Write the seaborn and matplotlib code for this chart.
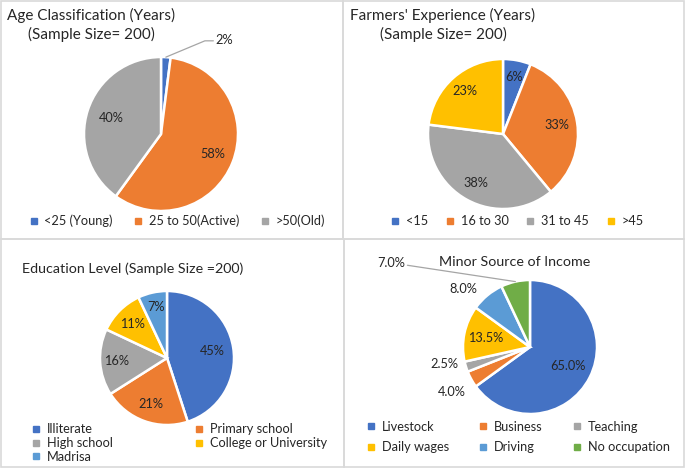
import numpy as np
import matplotlib
matplotlib.use('Agg')
import matplotlib.pyplot as plt
from matplotlib.lines import Line2D
import seaborn as sns

# data
age_labels = ['<25 (Young)', '25 to 50(Active)', '>50(Old)']
age_values = [2, 58, 40]
exp_labels = ['<15', '16 to 30', '31 to 45', '>45']
exp_values = [6, 33, 38, 23]
edu_labels = ['Illiterate', 'Primary school', 'High school', 'College or University', 'Madrisa']
edu_values = [45, 21, 16, 11, 7]
inc_labels = ['Livestock', 'Business', 'Teaching', 'Daily wages', 'Driving', 'No occupation']
inc_values = [65.0, 4.0, 2.5, 13.5, 8.0, 7.0]

sns.set_theme(style='white')
plt.rcParams['font.family'] = ['Lato', 'DejaVu Sans']
pal = sns.color_palette(['#4472C4', '#ED7D31', '#A5A5A5', '#FFC000', '#5B9BD5', '#70AD47'])
TXT = '#262626'

W, H = 685, 470
fig = plt.figure(figsize=(W / 100, H / 100), dpi=100)

def fx(x):
    return x / W

def fy(y):
    return 1 - y / H

# panel borders
for (x0, y0, x1, y1) in [(1, 1, 343, 239), (343, 1, 684, 239), (1, 239, 344, 467), (344, 239, 684, 467)]:
    fig.patches.append(plt.Rectangle((fx(x0), fy(y1)), fx(x1) - fx(x0), fy(y0) - fy(y1),
                                     transform=fig.transFigure, fill=False,
                                     edgecolor='#D9D9D9', lw=1.2))

def pie(cx, cy, r, values, fmt, dists, shifts=None):
    ax = fig.add_axes([fx(cx - r), fy(cy + r), 2 * r / W, 2 * r / H])
    wedges, _ = ax.pie(values, colors=pal[:len(values)], startangle=90, counterclock=False,
                       wedgeprops=dict(edgecolor='white', linewidth=1.8))
    ax.set_xlim(-1, 1)
    ax.set_ylim(-1, 1)
    ax.axis('off')
    if shifts is None:
        shifts = [0] * len(values)
    for w, v, d, s in zip(wedges, values, dists, shifts):
        if d is None:
            continue
        th = np.deg2rad((w.theta1 + w.theta2) / 2 + s)
        ax.text(d * np.cos(th), d * np.sin(th), fmt.format(v), ha='center', va='center',
                fontsize=9.2, color=TXT)
    return ax, wedges

def mid(w):
    th = np.deg2rad((w.theta1 + w.theta2) / 2)
    return np.cos(th), np.sin(th)

def legend(labels, order, cx, cy, ncol, colsp, rowsp=0.05):
    handles = [Line2D([], [], marker='s', ls='none', color=pal[i], markersize=4.5) for i in order]
    fig.legend(handles, [labels[i] for i in order], loc='center',
               bbox_to_anchor=(fx(cx), fy(cy)), ncol=ncol, frameon=False, fontsize=9.2,
               handlelength=0.8, handletextpad=0.45, columnspacing=colsp,
               labelspacing=rowsp, labelcolor=TXT)

# Age classification
fig.text(fx(91), fy(25), 'Age Classification (Years)\n(Sample Size= 200)', ha='center',
         va='center', fontsize=11, color=TXT, linespacing=1.3)
ax1, w1 = pie(161, 134, 77, age_values, '{:.0f}%', [None, 0.72, 0.68])
mx, my = mid(w1[0])
ax1.plot([mx, 0.57, 0.68], [my, 1.21, 1.21], color='#A5A5A5', lw=0.9, clip_on=False)
ax1.text(0.70, 1.22, '2%', ha='left', va='center', fontsize=9.2, color=TXT)
legend(age_labels, [0, 1, 2], 177, 221, 3, 1.6)

# Farmers' experience
fig.text(fx(443), fy(25), "Farmers' Experience (Years)\n(Sample Size= 200)", ha='center',
         va='center', fontsize=11, color=TXT, linespacing=1.3)
pie(503, 134, 75, exp_values, '{:.0f}%', [0.78, 0.73, 0.74, 0.77])
legend(exp_labels, [0, 1, 2, 3], 517, 221, 4, 1.3)

# Education level
fig.text(fx(22), fy(269), 'Education Level (Sample Size =200)', ha='left', va='center',
         fontsize=10.3, color=TXT)
pie(167, 358, 67, edu_values, '{:.0f}%', [0.68, 0.73, 0.76, 0.72, 0.78])
legend(edu_labels, [0, 2, 4, 1, 3], 179, 443, 2, 6.3, 0.15)

# Minor source of income
fig.text(fx(515), fy(262), 'Minor Source of Income', ha='center', va='center',
         fontsize=10.3, color=TXT)
ax4, w4 = pie(530, 347, 67, inc_values, '{:.1f}%', [0.63, 1.34, 1.30, 0.68, 1.32, None],
              [0, 1, -6, 0, 9, 0])
mx, my = mid(w4[5])
ax4.plot([mx, -1.83], [my, 1.22], color='#A5A5A5', lw=0.9, clip_on=False)
ax4.text(-1.86, 1.25, '7.0%', ha='right', va='center', fontsize=9.2, color=TXT)
legend(inc_labels, [0, 3, 1, 4, 2, 5], 518, 437, 3, 2.3, 0.65)

fig.savefig('out.png', dpi=100)
